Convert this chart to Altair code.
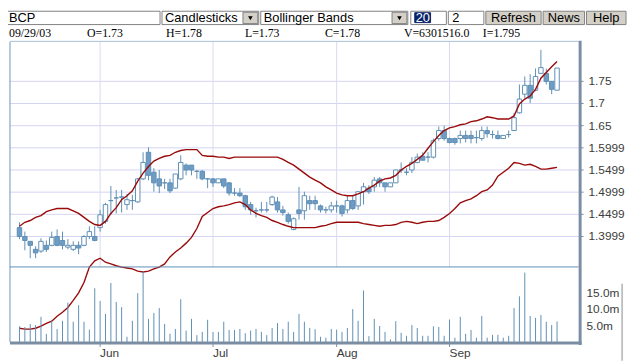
import altair as alt
import pandas as pd

# ---------------- data ----------------
day = list(range(101))  # trading-day index, 12 May 2003 .. 29 Sep 2003

open_ = [1.420, 1.400, 1.389, 1.371, 1.367, 1.380, 1.380, 1.400, 1.391, 1.376,
         1.371, 1.380, 1.380, 1.400, 1.400, 1.420, 1.434, 1.481, 1.487, 1.489,
         1.472, 1.481, 1.478, 1.530, 1.590, 1.545, 1.530, 1.521, 1.521, 1.509,
         1.530, 1.561, 1.561, 1.547, 1.547, 1.530, 1.530, 1.521, 1.530, 1.521,
         1.498, 1.498, 1.492, 1.472, 1.458, 1.460, 1.460, 1.472, 1.478, 1.460,
         1.449, 1.416, 1.460, 1.458, 1.481, 1.481, 1.469, 1.460, 1.460, 1.469,
         1.469, 1.460, 1.481, 1.469, 1.501, 1.509, 1.512, 1.530, 1.521, 1.512,
         1.521, 1.550, 1.545, 1.550, 1.567, 1.581, 1.579, 1.579, 1.621, 1.639,
         1.621, 1.621, 1.621, 1.628, 1.628, 1.623, 1.621, 1.639, 1.630, 1.628,
         1.621, 1.630, 1.639, 1.679, 1.721, 1.741, 1.730, 1.768, 1.768, 1.750,
         1.730]
high_ = [1.432, 1.411, 1.389, 1.378, 1.396, 1.391, 1.411, 1.416, 1.411, 1.394,
         1.389, 1.389, 1.403, 1.423, 1.423, 1.460, 1.476, 1.514, 1.505, 1.505,
         1.496, 1.494, 1.532, 1.590, 1.601, 1.554, 1.550, 1.530, 1.530, 1.541,
         1.583, 1.565, 1.561, 1.550, 1.550, 1.532, 1.532, 1.530, 1.530, 1.523,
         1.509, 1.509, 1.494, 1.478, 1.465, 1.478, 1.478, 1.492, 1.489, 1.469,
         1.454, 1.443, 1.512, 1.501, 1.492, 1.492, 1.472, 1.467, 1.478, 1.481,
         1.472, 1.492, 1.494, 1.501, 1.521, 1.516, 1.534, 1.534, 1.521, 1.521,
         1.550, 1.567, 1.554, 1.579, 1.587, 1.590, 1.590, 1.621, 1.648, 1.650,
         1.623, 1.623, 1.639, 1.639, 1.639, 1.639, 1.648, 1.648, 1.639, 1.639,
         1.628, 1.639, 1.679, 1.743, 1.761, 1.766, 1.779, 1.821, 1.779, 1.750,
         1.780]
low_ = [1.394, 1.369, 1.351, 1.351, 1.363, 1.365, 1.378, 1.378, 1.371, 1.371,
        1.367, 1.360, 1.378, 1.394, 1.389, 1.411, 1.429, 1.449, 1.452, 1.454,
        1.460, 1.460, 1.476, 1.527, 1.527, 1.501, 1.498, 1.507, 1.498, 1.507,
        1.527, 1.538, 1.538, 1.530, 1.527, 1.509, 1.512, 1.521, 1.509, 1.492,
        1.492, 1.489, 1.460, 1.449, 1.443, 1.454, 1.454, 1.469, 1.454, 1.447,
        1.429, 1.414, 1.438, 1.438, 1.460, 1.460, 1.454, 1.452, 1.454, 1.454,
        1.445, 1.452, 1.460, 1.460, 1.472, 1.496, 1.501, 1.512, 1.501, 1.512,
        1.521, 1.543, 1.538, 1.543, 1.565, 1.572, 1.567, 1.576, 1.616, 1.616,
        1.610, 1.607, 1.610, 1.612, 1.610, 1.610, 1.616, 1.623, 1.621, 1.619,
        1.621, 1.623, 1.639, 1.677, 1.712, 1.701, 1.728, 1.768, 1.743, 1.721,
        1.730]
close_ = [1.400, 1.391, 1.380, 1.363, 1.389, 1.371, 1.398, 1.380, 1.380, 1.380,
          1.380, 1.374, 1.400, 1.411, 1.391, 1.449, 1.472, 1.481, 1.487, 1.489,
          1.483, 1.481, 1.530, 1.567, 1.538, 1.521, 1.514, 1.521, 1.503, 1.541,
          1.567, 1.550, 1.550, 1.547, 1.530, 1.530, 1.521, 1.530, 1.514, 1.498,
          1.498, 1.492, 1.467, 1.460, 1.458, 1.460, 1.460, 1.489, 1.460, 1.454,
          1.434, 1.440, 1.452, 1.492, 1.474, 1.474, 1.460, 1.460, 1.469, 1.469,
          1.452, 1.481, 1.463, 1.501, 1.512, 1.501, 1.527, 1.521, 1.512, 1.521,
          1.550, 1.550, 1.545, 1.567, 1.579, 1.572, 1.579, 1.616, 1.639, 1.621,
          1.612, 1.612, 1.628, 1.621, 1.621, 1.623, 1.639, 1.632, 1.630, 1.621,
          1.628, 1.630, 1.668, 1.710, 1.741, 1.712, 1.761, 1.781, 1.750, 1.732,
          1.780]
volume_m = [4.8, 4.6, 5.5, 5.2, 7.7, 2.5, 6.5, 4.0, 6.5, 12.1,
            6.2, 11.3, 6.2, 3.8, 16.5, 12.6, 8.6, 18.1, 12.3, 10.7,
            1.6, 6.5, 15.0, 21.7, 7.1, 8.9, 10.4, 5.5, 2.5, 4.0,
            13.1, 3.5, 7.1, 2.1, 3.1, 6.8, 3.1, 3.1, 6.2, 3.7,
            3.7, 4.0, 2.7, 3.5, 4.0, 3.1, 2.1, 4.3, 5.8, 4.0,
            6.2, 3.1, 8.6, 6.2, 4.3, 3.9, 1.6, 1.3, 4.0, 3.8,
            3.1, 4.3, 10.1, 6.5, 15.8, 1.8, 7.1, 4.9, 3.1, 0.8,
            6.4, 2.8, 1.9, 5.2, 4.3, 1.9, 1.9, 4.8, 4.6, 1.9,
            6.9, 1.3, 7.7, 2.5, 3.7, 1.3, 8.0, 1.3, 2.2, 2.2,
            1.3, 1.9, 10.4, 14.0, 21.3, 8.0, 7.4, 8.3, 6.2, 5.2,
            6.3]
upper_band = [1.423, 1.432, 1.436, 1.443, 1.447, 1.456, 1.460, 1.463, 1.463, 1.463,
              1.458, 1.452, 1.443, 1.434, 1.427, 1.425, 1.434, 1.452, 1.465, 1.483,
              1.492, 1.503, 1.525, 1.543, 1.558, 1.570, 1.576, 1.581, 1.583, 1.590,
              1.594, 1.596, 1.596, 1.596, 1.583, 1.581, 1.581, 1.579, 1.579, 1.576,
              1.579, 1.579, 1.579, 1.579, 1.579, 1.579, 1.579, 1.579, 1.579, 1.574,
              1.567, 1.561, 1.552, 1.543, 1.534, 1.527, 1.521, 1.512, 1.505, 1.498,
              1.494, 1.492, 1.492, 1.496, 1.501, 1.509, 1.516, 1.525, 1.530, 1.532,
              1.538, 1.550, 1.558, 1.565, 1.574, 1.583, 1.599, 1.614, 1.628, 1.639,
              1.645, 1.648, 1.652, 1.654, 1.659, 1.661, 1.665, 1.670, 1.668, 1.665,
              1.665, 1.665, 1.672, 1.699, 1.710, 1.717, 1.732, 1.757, 1.770, 1.783,
              1.795]
lower_band = [1.193, 1.191, 1.191, 1.193, 1.198, 1.204, 1.209, 1.220, 1.229, 1.240,
              1.256, 1.273, 1.296, 1.331, 1.345, 1.351, 1.342, 1.338, 1.334, 1.331,
              1.329, 1.327, 1.322, 1.320, 1.322, 1.327, 1.331, 1.338, 1.354, 1.365,
              1.374, 1.385, 1.398, 1.418, 1.445, 1.454, 1.463, 1.467, 1.469, 1.472,
              1.476, 1.478, 1.472, 1.460, 1.452, 1.447, 1.443, 1.436, 1.432, 1.427,
              1.423, 1.420, 1.420, 1.420, 1.420, 1.420, 1.423, 1.425, 1.429, 1.432,
              1.432, 1.432, 1.432, 1.432, 1.429, 1.427, 1.425, 1.423, 1.425, 1.425,
              1.427, 1.432, 1.434, 1.432, 1.429, 1.432, 1.434, 1.434, 1.436, 1.443,
              1.452, 1.463, 1.476, 1.481, 1.485, 1.492, 1.501, 1.505, 1.516, 1.536,
              1.545, 1.554, 1.567, 1.565, 1.561, 1.563, 1.558, 1.552, 1.552, 1.554,
              1.556]

month_days = [15, 36, 59, 80]
month_names = ["Jun", "Jul", "Aug", "Sep"]
price_ticks = [1.4, 1.45, 1.5, 1.55, 1.6, 1.65, 1.7, 1.75]
price_tick_labels = ["1.3999", "1.4499", "1.4999", "1.5499",
                     "1.5999", "1.65", "1.7", "1.75"]
vol_ticks = [5, 10, 15]
vol_tick_labels = ["5.0m", "10.0m", "15.0m"]

info_texts = ["09/29/03", "O=1.73", "H=1.78", "L=1.73", "C=1.78", "V=6301516.0", "I=1.795"]
header_left_texts = ["BCP", "Candlesticks", "Bollinger Bands", "2"]
header_button_texts = ["Refresh", "News", "Help"]
header_selected_text = ["20"]

# ---------------- styling / layout ----------------
W, H = 576, 304
SEP = 228  # pixel row of the price / volume separator
BLUE = "#5e8fb5"
DOWN_FILL = "#6e9cc4"
RED = "#990a0a"
SANS = "Liberation Sans"
SERIF = "Liberation Serif"
LABEL = "#3c3c3c"

xs = alt.Scale(domain=[-0.85, 103.1], nice=False, zero=False)
ps = alt.Scale(domain=[1.162, 1.8391], nice=False, zero=False)
vs = alt.Scale(domain=[0, 92.1], nice=False, zero=False)

df = pd.DataFrame({"day": day, "open": open_, "high": high_, "low": low_,
                   "close": close_, "vol": volume_m, "upper": upper_band,
                   "lower": lower_band})
mdf = pd.DataFrame({"day": month_days, "name": month_names})
vdf = pd.DataFrame({"v": vol_ticks, "lab": vol_tick_labels})
pdf = pd.DataFrame({"p": price_ticks, "lab": price_tick_labels})

# month axis labels and ticks (drawn through the x scale)
mlabels = alt.Chart(mdf).mark_text(align="left", baseline="top", font=SANS, fontSize=12,
                                   color=LABEL).encode(
    x=alt.X("day:Q", scale=xs, axis=None), y=alt.value(H + 6.5), text="name:N")
mticks = alt.Chart(mdf).mark_rule(color="#7b8da2", strokeWidth=1).encode(
    x=alt.X("day:Q", scale=xs, axis=None), y=alt.value(H + 2), y2=alt.value(H + 5))
vgrid = alt.Chart(mdf).mark_rule(color="#dadaf0", strokeWidth=1).encode(
    x=alt.X("day:Q", scale=xs, axis=None), y=alt.value(0), y2=alt.value(SEP))

# price gridlines, ticks and labels (drawn through the price scale)
hgrid = alt.Chart(pdf).mark_rule(color="#d3d3f3", strokeWidth=1).encode(
    y=alt.Y("p:Q", scale=ps, axis=None), x=alt.value(0), x2=alt.value(W))
pticks = alt.Chart(pdf).mark_rule(color="#6f8fae", strokeWidth=1).encode(
    y=alt.Y("p:Q", scale=ps, axis=None), x=alt.value(W + 1), x2=alt.value(W + 5))
plabels = alt.Chart(pdf).mark_text(align="left", baseline="middle", font=SANS, fontSize=12,
                                   color=LABEL).encode(
    y=alt.Y("p:Q", scale=ps, axis=None), x=alt.value(W + 10), text="lab:N")

wick = alt.Chart(df).mark_rule(color=BLUE, strokeWidth=1).encode(
    x=alt.X("day:Q", scale=xs, axis=None),
    y=alt.Y("low:Q", scale=ps, axis=None), y2="high:Q")
body = alt.Chart(df).mark_bar(size=4.5, stroke=BLUE, strokeWidth=1).encode(
    x=alt.X("day:Q", scale=xs, axis=None),
    y=alt.Y("open:Q", scale=ps, axis=None), y2="close:Q",
    fill=alt.condition("datum.close >= datum.open", alt.value("white"), alt.value(DOWN_FILL)))
up_line = alt.Chart(df).mark_line(color=RED, strokeWidth=1.4).encode(
    x=alt.X("day:Q", scale=xs, axis=None), y=alt.Y("upper:Q", scale=ps, axis=None))
low_line = alt.Chart(df).mark_line(color=RED, strokeWidth=1.4).encode(
    x=alt.X("day:Q", scale=xs, axis=None), y=alt.Y("lower:Q", scale=ps, axis=None))

vbars = alt.Chart(df).mark_rule(color=BLUE, strokeWidth=1).encode(
    x=alt.X("day:Q", scale=xs, axis=None),
    y=alt.Y("vol:Q", scale=vs, axis=None), y2=alt.datum(0))
vlabels = alt.Chart(vdf).mark_text(align="left", baseline="middle", font=SANS,
                                   fontSize=12, color=LABEL).encode(
    y=alt.Y("v:Q", scale=vs, axis=None), x=alt.value(W + 8), text="lab:N")

# ---- frame lines (pixel positions of the chart chrome) ----
frame = pd.DataFrame({
    "x": [0, 0, 0, W + 1.5, 0, 620],
    "x2": [0, W, W, W + 1.5, W + 3, 620],
    "y": [0, -0.5, SEP, -1, H + 1, 245],
    "y2": [H, -0.5, SEP, H + 3, H + 1, 323],
    "c": ["#6f93b5", "#a9bfd3", "#5d8db3", "#7b8da2", "#7b8da2", "#8a8a8a"],
    "w": [1, 1, 1, 3, 3, 1],
})
frame_layer = alt.Chart(frame).mark_rule().encode(
    x=alt.X("x:Q", scale=None, axis=None), x2="x2:Q",
    y=alt.Y("y:Q", scale=None, axis=None), y2="y2:Q",
    color=alt.Color("c:N", scale=None), size=alt.Size("w:Q", scale=None))

# ---- header widgets ----
GRAY = "#d4d0c8"
boxes = pd.DataFrame({
    "x":  [-9, 154, 236, 254, 387, 406, 410, 444, 482, 540, 584],
    "x2": [152, 252, 251, 403, 402, 442, 426, 480, 538, 582, 624],
    "y":  [-31, -31, -30, -31, -30, -31, -29.5, -31, -31, -31, -31],
    "y2": [-17.5, -17.5, -18.5, -17.5, -18.5, -17.5, -19.5, -17.5, -17.5, -17.5, -17.5],
    "f": ["white", "white", GRAY, "white", GRAY, "white", "#0a246a", "white", GRAY, GRAY, GRAY],
    "s": ["#808080", "#808080", "#808080", "#808080", "#808080", "#808080", "#0a246a",
          "#808080", "#808080", "#808080", "#808080"],
})
box_layer = alt.Chart(boxes).mark_rect(strokeWidth=1).encode(
    x=alt.X("x:Q", scale=None, axis=None), x2="x2:Q",
    y=alt.Y("y:Q", scale=None, axis=None), y2="y2:Q",
    fill=alt.Fill("f:N", scale=None), stroke=alt.Stroke("s:N", scale=None))

arrows = pd.DataFrame({"x": [243.5, 394.5], "y": [-24, -24]})
arrow_layer = alt.Chart(arrows).mark_point(shape="triangle-down", filled=True, size=22,
                                           color="black", opacity=1).encode(
    x=alt.X("x:Q", scale=None, axis=None), y=alt.Y("y:Q", scale=None, axis=None))

hl = pd.DataFrame({"x": [-1, 157, 257, 448], "y": [-24] * 4, "t": header_left_texts})
hl_layer = alt.Chart(hl).mark_text(align="left", baseline="middle", font=SANS, fontSize=13,
                                   color="black").encode(
    x=alt.X("x:Q", scale=None, axis=None), y=alt.Y("y:Q", scale=None, axis=None), text="t:N")
hs = pd.DataFrame({"x": [411], "y": [-24], "t": header_selected_text})
hs_layer = alt.Chart(hs).mark_text(align="left", baseline="middle", font=SANS, fontSize=13,
                                   color="white").encode(
    x=alt.X("x:Q", scale=None, axis=None), y=alt.Y("y:Q", scale=None, axis=None), text="t:N")
hb = pd.DataFrame({"x": [510, 561, 604], "y": [-24] * 3, "t": header_button_texts})
hb_layer = alt.Chart(hb).mark_text(align="center", baseline="middle", font=SANS, fontSize=13,
                                   color="black").encode(
    x=alt.X("x:Q", scale=None, axis=None), y=alt.Y("y:Q", scale=None, axis=None), text="t:N")
info = pd.DataFrame({"x": [-1, 78, 158, 238, 319, 399, 479], "y": [-4.5] * 7, "t": info_texts})
info_layer = alt.Chart(info).mark_text(align="left", baseline="alphabetic", font=SERIF,
                                       fontSize=12, color="black").encode(
    x=alt.X("x:Q", scale=None, axis=None), y=alt.Y("y:Q", scale=None, axis=None), text="t:N")

chart = alt.layer(
    hgrid, vgrid, wick, body, up_line, low_line, pticks, plabels,
    vbars, vlabels, mticks, mlabels,
    frame_layer, box_layer, arrow_layer, hl_layer, hs_layer, hb_layer, info_layer
).resolve_scale(y="independent").properties(
    width=W, height=H,
    autosize=alt.AutoSizeParams(type="none"),
    padding={"left": 2, "top": 32, "right": 50, "bottom": 19},
    background="white",
).configure_view(strokeWidth=0)

chart.save("out.html", embed_options={"renderer": "svg", "actions": False})
